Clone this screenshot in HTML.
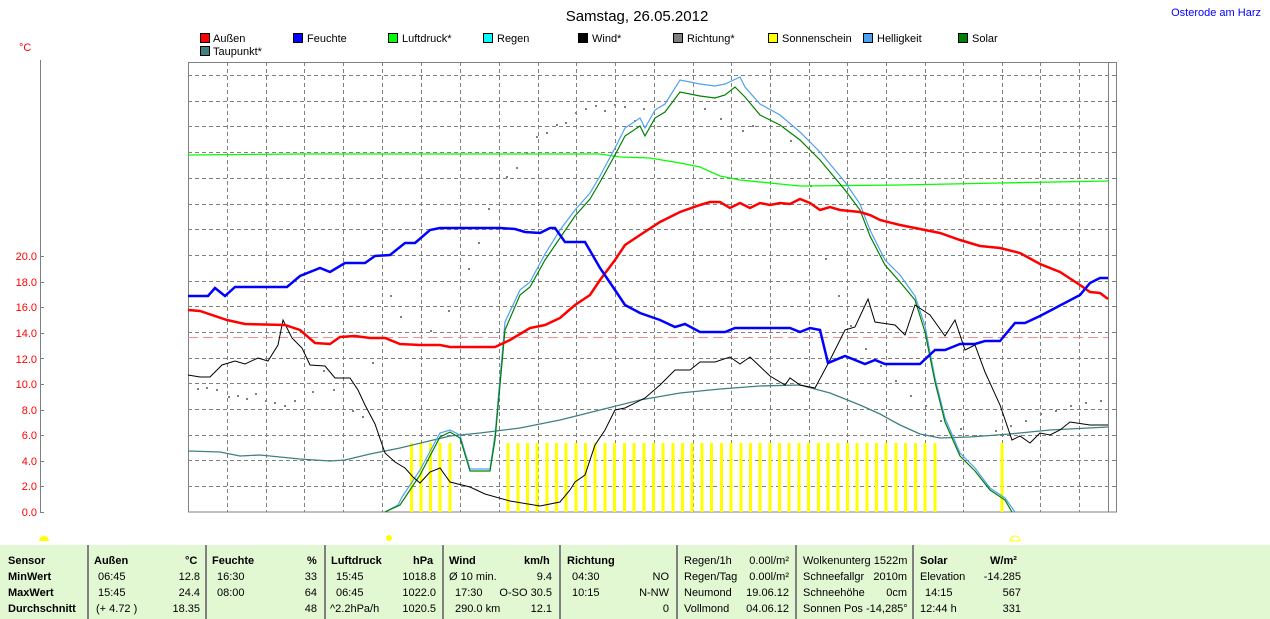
<!DOCTYPE html>
<html><head><meta charset="utf-8"><style>
body{margin:0;background:#fff;width:1270px;height:619px;overflow:hidden;font-family:"Liberation Sans",sans-serif}
svg{position:absolute;left:0;top:0}
.tb{position:absolute;left:0;top:545px;width:1270px;height:74px;background:#e2f8d2}
.c{position:absolute;font-size:11px;color:#000;white-space:nowrap}
.b{font-weight:bold}
.sep{position:absolute;top:0;width:2px;height:74px;background:#808080}
</style></head><body>
<svg width="1270" height="619" font-family="Liberation Sans, sans-serif">
<text x="637" y="21" font-size="15" text-anchor="middle" fill="#000">Samstag, 26.05.2012</text>
<text x="1261" y="16" font-size="11" text-anchor="end" fill="#0000ff">Osterode am Harz</text>
<text x="19" y="51" font-size="11" fill="#ff0000">°C</text>
<g font-size="11">
<rect x="200.5" y="33.5" width="9" height="9" fill="#ff0000" stroke="#000"/><text x="213" y="42">Außen</text>
<rect x="293.5" y="33.5" width="9" height="9" fill="#0000ff" stroke="#000"/><text x="307" y="42">Feuchte</text>
<rect x="388.5" y="33.5" width="9" height="9" fill="#00ff00" stroke="#000"/><text x="402" y="42">Luftdruck*</text>
<rect x="483.5" y="33.5" width="9" height="9" fill="#00ffff" stroke="#000"/><text x="497" y="42">Regen</text>
<rect x="578.5" y="33.5" width="9" height="9" fill="#000" stroke="#000"/><text x="592" y="42">Wind*</text>
<rect x="673.5" y="33.5" width="9" height="9" fill="#808080" stroke="#000"/><text x="687" y="42">Richtung*</text>
<rect x="768.5" y="33.5" width="9" height="9" fill="#ffff00" stroke="#000"/><text x="782" y="42">Sonnenschein</text>
<rect x="863.5" y="33.5" width="9" height="9" fill="#50a0f0" stroke="#000"/><text x="877" y="42">Helligkeit</text>
<rect x="958.5" y="33.5" width="9" height="9" fill="#008000" stroke="#000"/><text x="972" y="42">Solar</text>
<rect x="200.5" y="46.5" width="9" height="9" fill="#408080" stroke="#000"/><text x="213" y="55">Taupunkt*</text>
</g>
<line x1="40.5" y1="60" x2="40.5" y2="512" stroke="#808080"/>
<g font-size="11" fill="#ff0000" text-anchor="end">
<text x="37" y="516">0.0</text><text x="37" y="490">2.0</text><text x="37" y="465">4.0</text><text x="37" y="439">6.0</text><text x="37" y="414">8.0</text><text x="37" y="388">10.0</text><text x="37" y="363">12.0</text><text x="37" y="337">14.0</text><text x="37" y="311">16.0</text><text x="37" y="286">18.0</text><text x="37" y="260">20.0</text>
</g>
<g stroke="#808080"><line x1="40" y1="512.5" x2="44" y2="512.5"/><line x1="40" y1="486.5" x2="44" y2="486.5"/><line x1="40" y1="461.5" x2="44" y2="461.5"/><line x1="40" y1="435.5" x2="44" y2="435.5"/><line x1="40" y1="410.5" x2="44" y2="410.5"/><line x1="40" y1="384.5" x2="44" y2="384.5"/><line x1="40" y1="358.5" x2="44" y2="358.5"/><line x1="40" y1="333.5" x2="44" y2="333.5"/><line x1="40" y1="307.5" x2="44" y2="307.5"/><line x1="40" y1="282.5" x2="44" y2="282.5"/><line x1="40" y1="256.5" x2="44" y2="256.5"/></g>
<g stroke="#808080" stroke-dasharray="4,3">
<path d="M188 75.5H1117M188 101.5H1117M188 126.5H1117M188 152.5H1117M188 178.5H1117M188 204.5H1117M188 229.5H1117M188 255.5H1117M188 281.5H1117M188 306.5H1117M188 332.5H1117M188 358.5H1117M188 383.5H1117M188 409.5H1117M188 435.5H1117M188 460.5H1117M188 486.5H1117"/>
<path d="M227.5 62V512M266.5 62V512M304.5 62V512M343.5 62V512M382.5 62V512M421.5 62V512M460.5 62V512M499.5 62V512M538.5 62V512M576.5 62V512M615.5 62V512M654.5 62V512M693.5 62V512M731.5 62V512M770.5 62V512M809.5 62V512M847.5 62V512M886.5 62V512M925.5 62V512M963.5 62V512M1002.5 62V512M1040.5 62V512M1079.5 62V512"/>
</g>
<rect x="188.5" y="62.5" width="928" height="449.5" fill="none" stroke="#808080"/>
<line x1="1108.5" y1="62" x2="1108.5" y2="512" stroke="#808080"/>
<line x1="188" y1="337.5" x2="1108" y2="337.5" stroke="#f09090" stroke-dasharray="10,5"/>
<g stroke="#ffff00" stroke-width="3">
<path d="M411.5 443V512M421 443V512M430.5 443V512M440 443V512M450 443V512M508 443V512M518 443V512M527.5 443V512M537 443V512M547 443V512M556.5 443V512M566 443V512M576 443V512M585.5 443V512M595 443V512M605 443V512M614.5 443V512M624.5 443V512M634 443V512M644 443V512M653.5 443V512M663 443V512M673 443V512M682.5 443V512M692 443V512M702 443V512M711.5 443V512M721.5 443V512M731 443V512M741 443V512M750.5 443V512M760 443V512M770 443V512M779.5 443V512M789 443V512M799 443V512M808.5 443V512M818.5 443V512M828 443V512M838 443V512M847.5 443V512M857 443V512M867 443V512M876.5 443V512M886 443V512M896 443V512M905.5 443V512M915.5 443V512M925 443V512M935 443V512M1002 443V512"/>
</g>
<g fill="#808080">
<rect x="197" y="388" width="2" height="2"/><rect x="206" y="387" width="2" height="2"/><rect x="216" y="389" width="2" height="2"/><rect x="228" y="396" width="2" height="2"/><rect x="237" y="395" width="2" height="2"/><rect x="246" y="398" width="2" height="2"/><rect x="255" y="393" width="2" height="2"/><rect x="265" y="400" width="2" height="2"/><rect x="274" y="402" width="2" height="2"/><rect x="284" y="405" width="2" height="2"/><rect x="294" y="400" width="2" height="2"/><rect x="312" y="391" width="2" height="2"/><rect x="323" y="370" width="2" height="2"/><rect x="333" y="389" width="2" height="2"/><rect x="352" y="410" width="2" height="2"/><rect x="362" y="416" width="2" height="2"/><rect x="372" y="362" width="2" height="2"/><rect x="390" y="295" width="2" height="2"/><rect x="400" y="316" width="2" height="2"/><rect x="430" y="330" width="2" height="2"/><rect x="448" y="310" width="2" height="2"/><rect x="468" y="268" width="2" height="2"/><rect x="478" y="242" width="2" height="2"/><rect x="488" y="208" width="2" height="2"/><rect x="506" y="176" width="2" height="2"/><rect x="516" y="167" width="2" height="2"/><rect x="526" y="152" width="2" height="2"/><rect x="536" y="136" width="2" height="2"/><rect x="546" y="132" width="2" height="2"/><rect x="556" y="124" width="2" height="2"/><rect x="565" y="122" width="2" height="2"/><rect x="575" y="112" width="2" height="2"/><rect x="585" y="108" width="2" height="2"/><rect x="595" y="105" width="2" height="2"/><rect x="604" y="110" width="2" height="2"/><rect x="614" y="104" width="2" height="2"/><rect x="624" y="106" width="2" height="2"/><rect x="634" y="120" width="2" height="2"/><rect x="643" y="108" width="2" height="2"/><rect x="704" y="108" width="2" height="2"/><rect x="720" y="118" width="2" height="2"/><rect x="742" y="130" width="2" height="2"/><rect x="752" y="125" width="2" height="2"/><rect x="790" y="140" width="2" height="2"/><rect x="810" y="185" width="2" height="2"/><rect x="825" y="258" width="2" height="2"/><rect x="838" y="295" width="2" height="2"/><rect x="850" y="325" width="2" height="2"/><rect x="865" y="348" width="2" height="2"/><rect x="880" y="365" width="2" height="2"/><rect x="895" y="380" width="2" height="2"/><rect x="910" y="395" width="2" height="2"/><rect x="925" y="405" width="2" height="2"/><rect x="940" y="420" width="2" height="2"/><rect x="960" y="428" width="2" height="2"/><rect x="975" y="435" width="2" height="2"/><rect x="995" y="430" width="2" height="2"/><rect x="1010" y="425" width="2" height="2"/><rect x="1025" y="420" width="2" height="2"/><rect x="1040" y="413" width="2" height="2"/><rect x="1055" y="410" width="2" height="2"/><rect x="1070" y="405" width="2" height="2"/><rect x="1085" y="402" width="2" height="2"/><rect x="1100" y="400" width="2" height="2"/>
</g>
<polyline fill="none" stroke="#00ff00" stroke-width="1.3" points="188,155 300,154 600,154 620,157 650,158 680,163 700,167 720,176 740,180 780,184 800,186 900,185 1000,183 1108,181"/>
<polyline fill="none" stroke="#408080" stroke-width="1.3" points="188,451 220,452 240,456 260,455 300,459 330,461 345,460 370,454 400,448 450,436 480,433 520,428 560,420 600,410 640,400 680,393 720,389 760,386 800,385 830,393 860,405 880,414 900,425 920,434 940,438 970,437 1010,434 1050,430 1108,427"/>
<polyline fill="none" stroke="#50a0f0" stroke-width="1.2" points="385,512 398,505 402,497 420,470 440,433 450,430 460,435 470,469 490,469 495,435 505,322 520,290 530,282 545,254 560,230 575,210 590,193 600,176 615,148 625,128 640,118 645,128 655,110 665,104 680,80 700,84 715,86 725,84 740,77 745,87 760,104 780,115 800,132 820,152 845,182 860,204 870,230 885,260 900,275 915,296 925,326 935,378 945,418 960,453 975,468 990,488 1005,498 1015,512"/>
<polyline fill="none" stroke="#008000" stroke-width="1.2" points="385,512 400,505 420,475 440,437 450,432 460,438 470,471 490,471 495,440 505,330 520,295 530,287 545,260 560,238 575,216 590,199 600,182 615,155 625,136 640,126 645,136 655,118 665,112 680,92 700,96 715,98 725,95 735,87 745,97 760,115 780,125 800,140 820,160 845,190 860,210 870,236 885,265 900,282 915,300 925,332 935,382 945,422 960,456 975,471 990,490 1005,500 1012,512"/>
<polyline fill="none" stroke="#000" stroke-width="1" points="188,375 200,377 210,377 222,365 235,361 245,364 258,358 268,361 278,345 283,320 292,338 302,348 310,365 325,366 335,378 350,378 358,390 365,405 375,424 385,453 395,462 405,468 413,477 420,483 430,472 440,468 450,482 470,487 485,494 510,501 540,506 560,502 570,490 575,482 585,475 595,445 605,430 615,410 625,408 645,398 660,385 675,370 690,370 700,362 715,362 730,357 740,364 750,357 770,376 785,385 790,378 800,385 815,388 830,360 845,330 855,327 868,299 875,322 895,325 905,335 915,305 930,315 945,336 955,320 965,350 975,345 985,372 1000,405 1012,440 1020,436 1030,443 1040,433 1050,435 1060,430 1070,422 1090,425 1108,425"/>
<polyline fill="none" stroke="#ff0000" stroke-width="2.5" points="188,310 200,311 227,320 245,324 285,325 300,330 315,343 330,344 340,337 355,336 370,338 385,338 400,344 420,345 440,345 450,347 470,347 495,347 510,340 530,328 545,325 560,318 575,305 590,295 600,280 615,260 625,245 640,235 660,222 680,212 700,205 710,202 720,202 730,208 740,203 750,208 760,203 770,205 780,203 790,204 800,199 810,203 820,210 830,207 840,210 860,212 870,215 880,220 900,225 920,229 940,233 960,240 980,246 1000,248 1020,253 1040,264 1060,272 1080,285 1090,292 1100,293 1108,299"/>
<polyline fill="none" stroke="#0000ff" stroke-width="2.5" points="188,296 208,296 215,288 225,296 235,287 287,287 300,276 320,268 330,272 345,263 365,263 375,256 390,255 405,243 415,243 430,230 440,228 500,228 515,229 525,232 540,233 550,228 555,228 565,242 585,242 600,268 615,290 625,305 640,313 660,320 675,327 685,324 700,332 725,332 735,328 790,328 800,332 810,328 820,330 828,363 845,356 865,364 875,360 885,364 920,364 935,350 945,350 960,344 975,344 985,341 1000,341 1015,323 1025,323 1040,316 1080,295 1090,283 1100,278 1108,278"/>
<g fill="#ffff00"><path d="M39 541a5 5 0 0 1 10 0z"/><circle cx="389" cy="538" r="3"/><path d="M1010 541a5 5 0 0 1 10 0z" fill="none" stroke="#ffff00"/></g>
</svg>
<div class="tb">
<div class="sep" style="left:87px"></div><div class="sep" style="left:205px"></div><div class="sep" style="left:324px"></div><div class="sep" style="left:442px"></div><div class="sep" style="left:559px"></div><div class="sep" style="left:676px"></div><div class="sep" style="left:795px"></div><div class="sep" style="left:912px"></div>
<div class="c b" style="left:8px;top:10px">Sensor</div><div class="c b" style="left:8px;top:26px">MinWert</div><div class="c b" style="left:8px;top:42px">MaxWert</div><div class="c b" style="left:8px;top:58px">Durchschnitt</div>
<div class="c b" style="left:94px;top:10px">Außen</div><div class="c b" style="left:185px;top:10px">°C</div>
<div class="c" style="left:98px;top:26px">06:45</div><div class="c" style="right:1070px;top:26px">12.8</div>
<div class="c" style="left:98px;top:42px">15:45</div><div class="c" style="right:1070px;top:42px">24.4</div>
<div class="c" style="left:96px;top:58px">(+ 4.72 )</div><div class="c" style="right:1070px;top:58px">18.35</div>
<div class="c b" style="left:212px;top:10px">Feuchte</div><div class="c b" style="left:307px;top:10px">%</div>
<div class="c" style="left:217px;top:26px">16:30</div><div class="c" style="right:953px;top:26px">33</div>
<div class="c" style="left:217px;top:42px">08:00</div><div class="c" style="right:953px;top:42px">64</div>
<div class="c" style="right:953px;top:58px">48</div>
<div class="c b" style="left:331px;top:10px">Luftdruck</div><div class="c b" style="left:413px;top:10px">hPa</div>
<div class="c" style="left:336px;top:26px">15:45</div><div class="c" style="right:834px;top:26px">1018.8</div>
<div class="c" style="left:336px;top:42px">06:45</div><div class="c" style="right:834px;top:42px">1022.0</div>
<div class="c" style="left:330px;top:58px">^2.2hPa/h</div><div class="c" style="right:834px;top:58px">1020.5</div>
<div class="c b" style="left:449px;top:10px">Wind</div><div class="c b" style="left:524px;top:10px">km/h</div>
<div class="c" style="left:449px;top:26px">Ø 10 min.</div><div class="c" style="right:718px;top:26px">9.4</div>
<div class="c" style="left:455px;top:42px">17:30</div><div class="c" style="right:718px;top:42px">O-SO 30.5</div>
<div class="c" style="left:455px;top:58px">290.0 km</div><div class="c" style="right:718px;top:58px">12.1</div>
<div class="c b" style="left:567px;top:10px">Richtung</div>
<div class="c" style="left:572px;top:26px">04:30</div><div class="c" style="right:601px;top:26px">NO</div>
<div class="c" style="left:572px;top:42px">10:15</div><div class="c" style="right:601px;top:42px">N-NW</div>
<div class="c" style="right:601px;top:58px">0</div>
<div class="c" style="left:684px;top:10px">Regen/1h</div><div class="c" style="right:481px;top:10px">0.00l/m²</div>
<div class="c" style="left:684px;top:26px">Regen/Tag</div><div class="c" style="right:481px;top:26px">0.00l/m²</div>
<div class="c" style="left:684px;top:42px">Neumond</div><div class="c" style="right:481px;top:42px">19.06.12</div>
<div class="c" style="left:684px;top:58px">Vollmond</div><div class="c" style="right:481px;top:58px">04.06.12</div>
<div class="c" style="left:803px;top:10px">Wolkenunterg 1522m</div>
<div class="c" style="left:803px;top:26px">Schneefallgr</div><div class="c" style="right:363px;top:26px">2010m</div>
<div class="c" style="left:803px;top:42px">Schneehöhe</div><div class="c" style="right:363px;top:42px">0cm</div>
<div class="c" style="left:803px;top:58px">Sonnen Pos -14,285°</div>
<div class="c b" style="left:920px;top:10px">Solar</div><div class="c b" style="left:990px;top:10px">W/m²</div>
<div class="c" style="left:920px;top:26px">Elevation</div><div class="c" style="right:249px;top:26px">-14.285</div>
<div class="c" style="left:925px;top:42px">14:15</div><div class="c" style="right:249px;top:42px">567</div>
<div class="c" style="left:920px;top:58px">12:44 h</div><div class="c" style="right:249px;top:58px">331</div>
</div>
</body></html>
